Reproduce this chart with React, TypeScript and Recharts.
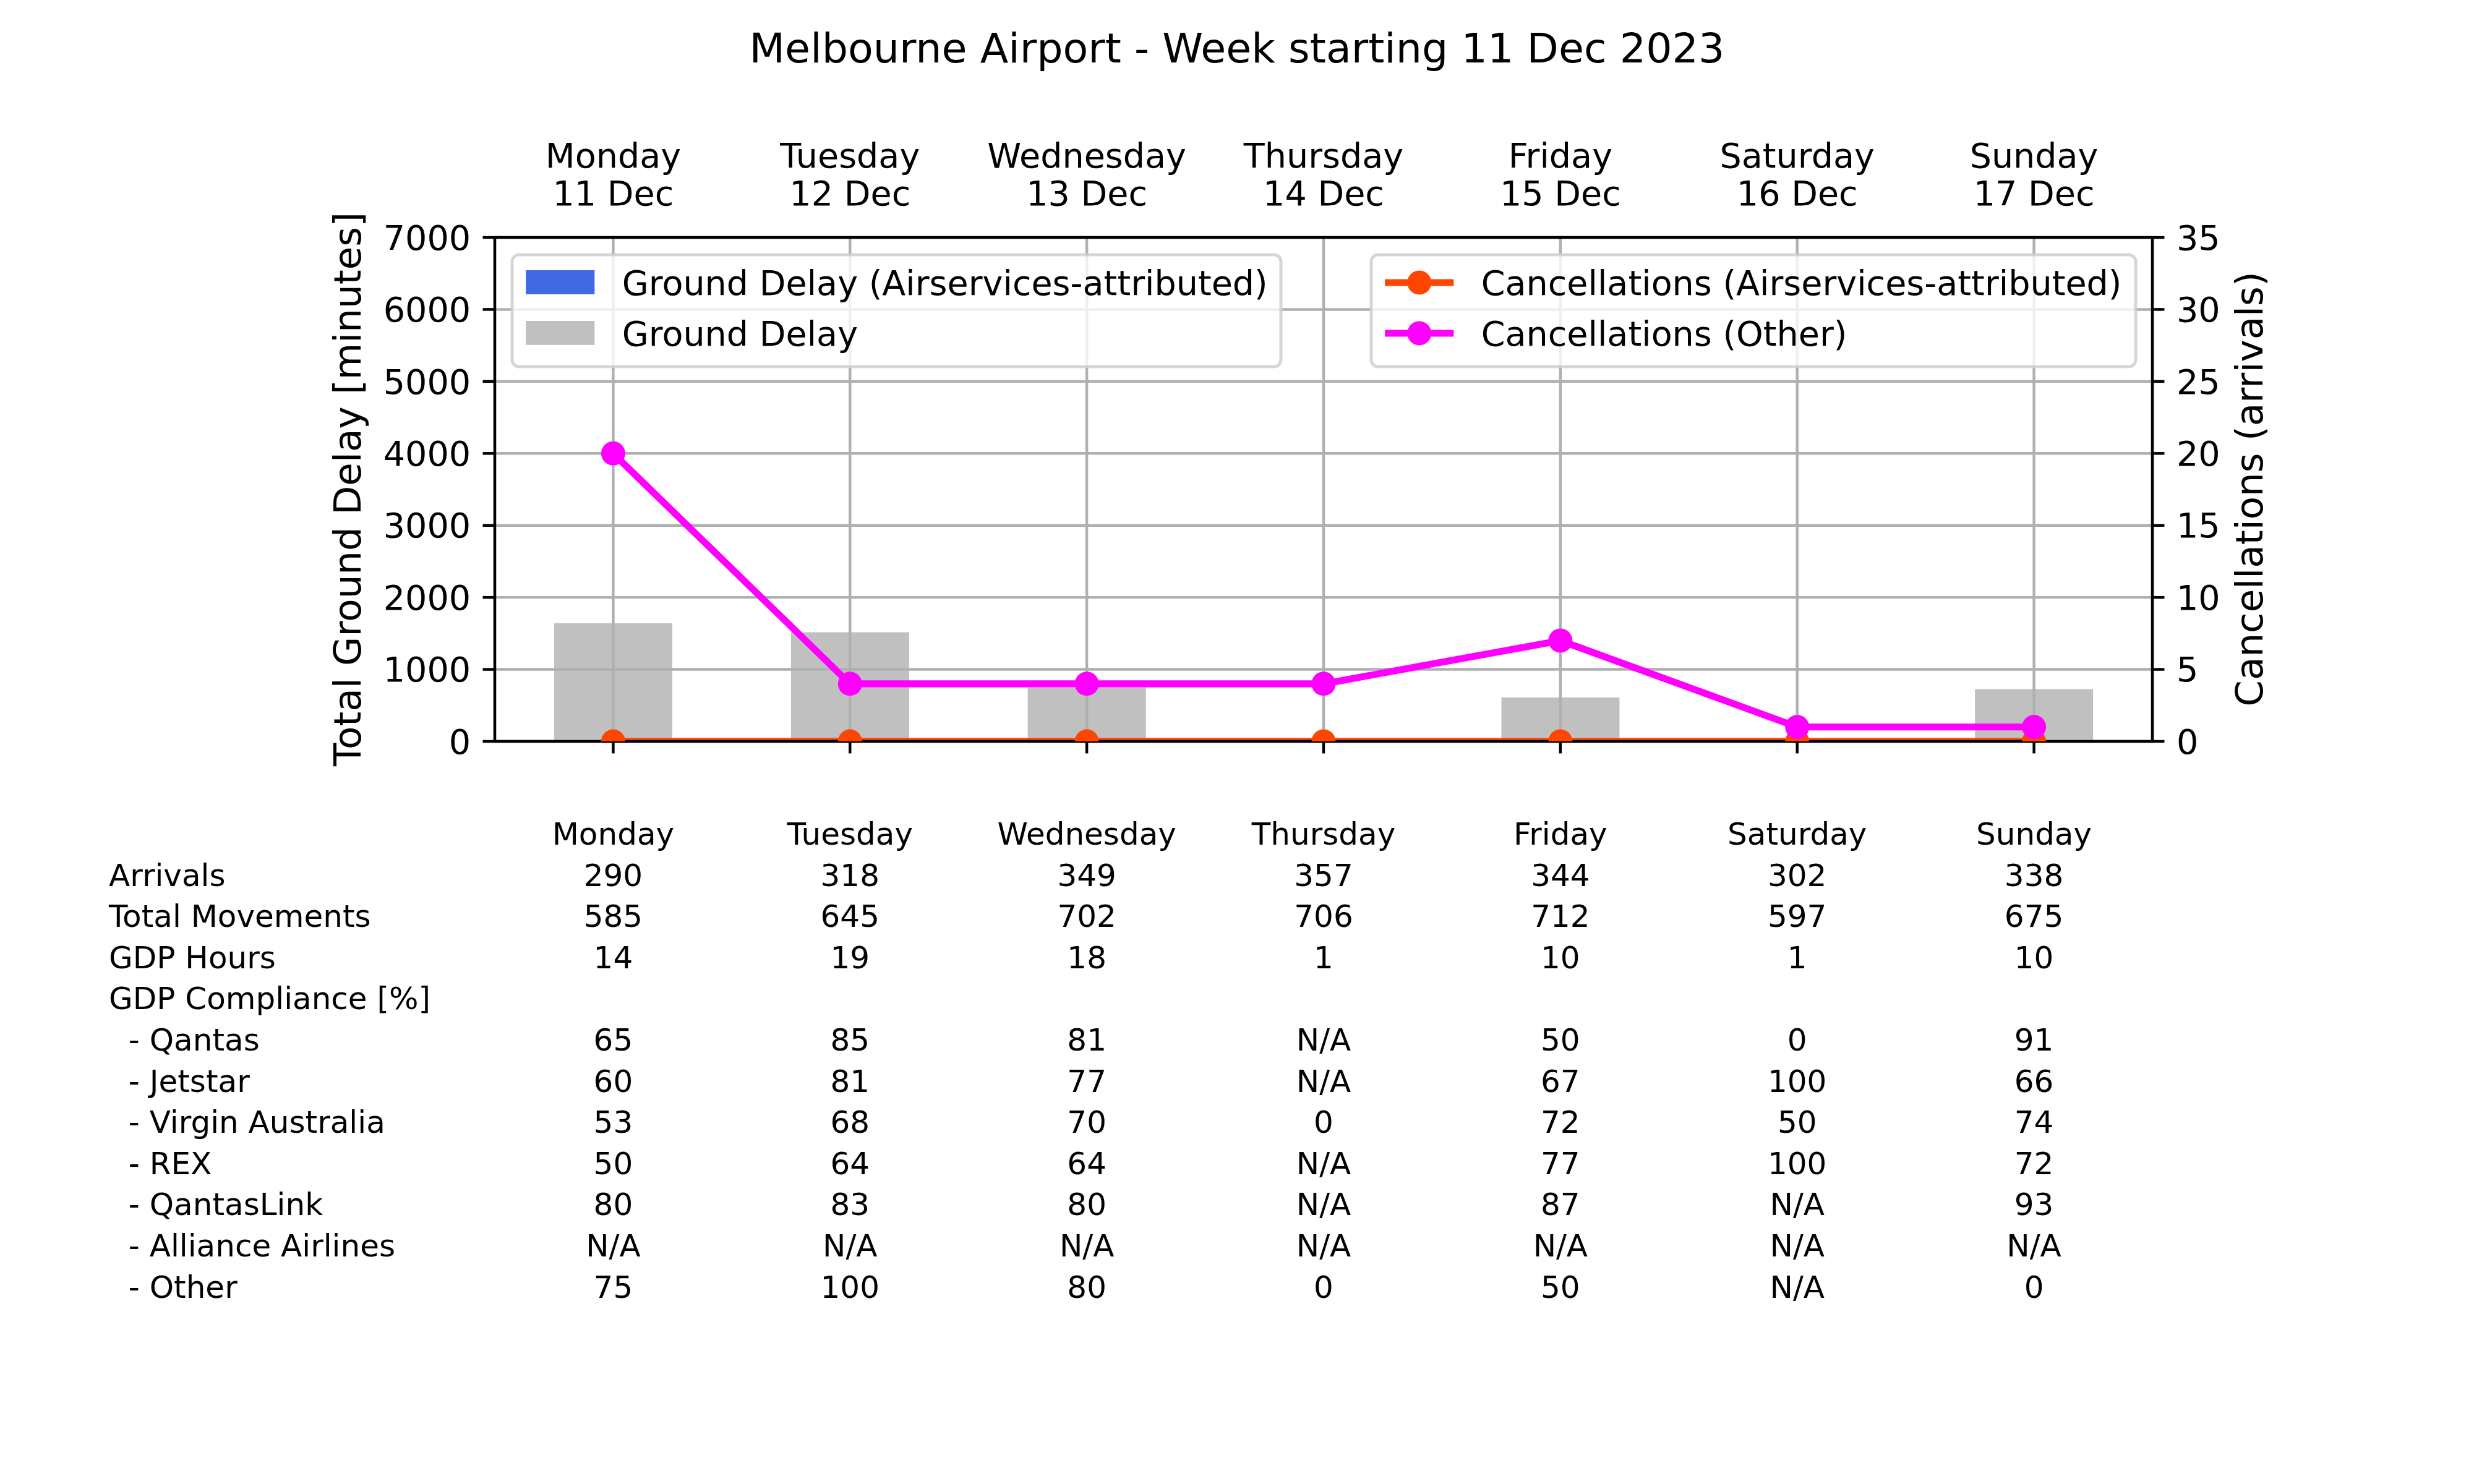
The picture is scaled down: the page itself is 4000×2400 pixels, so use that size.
import React from 'react';
import {
  ComposedChart,
  Bar,
  Line,
  XAxis,
  YAxis,
  CartesianGrid,
} from 'recharts';

// ---------- data ----------
const days = ['Monday', 'Tuesday', 'Wednesday', 'Thursday', 'Friday', 'Saturday', 'Sunday'];
const dates = ['11 Dec', '12 Dec', '13 Dec', '14 Dec', '15 Dec', '16 Dec', '17 Dec'];
const groundDelay = [1640, 1515, 750, 45, 610, 0, 725];
const groundDelayAttributed = [0, 0, 0, 0, 0, 0, 0];
const cancellationsAttributed = [0, 0, 0, 0, 0, 0, 0];
const cancellationsOther = [20, 4, 4, 4, 7, 1, 1];
const leftTicks = [0, 1000, 2000, 3000, 4000, 5000, 6000, 7000];
const rightTicks = [0, 5, 10, 15, 20, 25, 30, 35];

const arrivals = ['290', '318', '349', '357', '344', '302', '338'];
const totalMovements = ['585', '645', '702', '706', '712', '597', '675'];
const gdpHours = ['14', '19', '18', '1', '10', '1', '10'];
const qantas = ['65', '85', '81', 'N/A', '50', '0', '91'];
const jetstar = ['60', '81', '77', 'N/A', '67', '100', '66'];
const virgin = ['53', '68', '70', '0', '72', '50', '74'];
const rex = ['50', '64', '64', 'N/A', '77', '100', '72'];
const qantasLink = ['80', '83', '80', 'N/A', '87', 'N/A', '93'];
const alliance = ['N/A', 'N/A', 'N/A', 'N/A', 'N/A', 'N/A', 'N/A'];
const other = ['75', '100', '80', '0', '50', 'N/A', '0'];

const tableRows: { label: string; values: string[] | null }[] = [
  { label: '', values: days },
  { label: 'Arrivals', values: arrivals },
  { label: 'Total Movements', values: totalMovements },
  { label: 'GDP Hours', values: gdpHours },
  { label: 'GDP Compliance [%]', values: null },
  { label: '\u00a0\u00a0- Qantas', values: qantas },
  { label: '\u00a0\u00a0- Jetstar', values: jetstar },
  { label: '\u00a0\u00a0- Virgin Australia', values: virgin },
  { label: '\u00a0\u00a0- REX', values: rex },
  { label: '\u00a0\u00a0- QantasLink', values: qantasLink },
  { label: '\u00a0\u00a0- Alliance Airlines', values: alliance },
  { label: '\u00a0\u00a0- Other', values: other },
];

const barSeries = [
  { name: 'Ground Delay (Airservices-attributed)', color: '#4169e1' },
  { name: 'Ground Delay', color: '#c0c0c0' },
];
const lineSeries = [
  { name: 'Cancellations (Airservices-attributed)', color: '#ff4500' },
  { name: 'Cancellations (Other)', color: '#ff00ff' },
];

const chartData = days.map((d, i) => ({
  day: d,
  groundDelay: groundDelay[i],
  groundDelayAttributed: groundDelayAttributed[i],
  cancellationsAttributed: cancellationsAttributed[i],
  cancellationsOther: cancellationsOther[i],
}));

// ---------- style ----------
const PT = 400 / 72;
const FONT = "'DejaVu Sans', 'Liberation Sans', sans-serif";
const FS = 10 * PT;
const FS_TABLE = 9 * PT;
const FS_TITLE = 12 * PT;
const FS_LABEL = 11 * PT;
const LW = 0.8 * PT;
const TICK = 3.5 * PT;
const ROW = 66.6;
const TABLE_FIRST = 1366;

const TopTick = (props: any) => {
  const { x, y, payload } = props;
  const i = days.indexOf(payload.value);
  return (
    <text x={x} y={y} textAnchor="middle" fontFamily={FONT} fontSize={FS} fill="#000">
      <tspan x={x} dy={-113}>{days[i]}</tspan>
      <tspan x={x} dy={61}>{dates[i]}</tspan>
    </text>
  );
};

const TableTick = (props: any) => {
  const { x, y, payload } = props;
  const i = days.indexOf(payload.value);
  return (
    <g>
      {tableRows.map((row, r) =>
        row.values ? (
          <text
            key={r}
            x={x}
            y={y + (TABLE_FIRST - 1218.4) + r * ROW}
            textAnchor="middle"
            fontFamily={FONT}
            fontSize={FS_TABLE}
            fill="#000"
          >
            {row.values[i]}
          </text>
        ) : null
      )}
    </g>
  );
};

const Decorations = () => {
  const lx = 828;
  const ly = 412;
  const lh = 181;
  const rx = 2217;
  const rRight = 3453;
  const pad = 0.4 * FS;
  const hl = 2 * FS;
  const htp = 0.8 * FS;
  const rowPitch = 82;
  return (
    <svg
      width={4000}
      height={2400}
      style={{ position: 'absolute', left: 0, top: 0, pointerEvents: 'none' }}
    >
      <g fontFamily={FONT} fill="#000">
        <text x={2000} y={101} textAnchor="middle" fontSize={FS_TITLE}>
          Melbourne Airport - Week starting 11 Dec 2023
        </text>
        <text transform="translate(583, 791) rotate(-90)" textAnchor="middle" fontSize={FS_LABEL}>
          Total Ground Delay [minutes]
        </text>
        <text transform="translate(3658, 791) rotate(-90)" textAnchor="middle" fontSize={FS_LABEL}>
          Cancellations (arrivals)
        </text>
        {tableRows.map((row, r) =>
          row.label ? (
            <text key={r} x={176} y={TABLE_FIRST + r * ROW} fontSize={FS_TABLE} style={{ whiteSpace: 'pre' }}>
              {row.label}
            </text>
          ) : null
        )}
        {/* left legend */}
        <rect x={lx} y={ly} width={1243} height={lh} rx={11} fill="#fff" fillOpacity={0.8} stroke="#cccccc" strokeOpacity={0.8} strokeWidth={5} />
        {barSeries.map((s, k) => (
          <g key={s.name}>
            <rect x={lx + pad} y={ly + 25 + k * rowPitch} width={hl} height={0.7 * FS} fill={s.color} />
            <text x={lx + pad + hl + htp} y={ly + 65 + k * rowPitch} fontSize={FS}>
              {s.name}
            </text>
          </g>
        ))}
        {/* right legend */}
        <rect x={rx} y={ly} width={rRight - rx} height={lh} rx={11} fill="#fff" fillOpacity={0.8} stroke="#cccccc" strokeOpacity={0.8} strokeWidth={5} />
        {lineSeries.map((s, k) => (
          <g key={s.name}>
            <line x1={rx + pad} x2={rx + pad + hl} y1={ly + 45 + k * rowPitch} y2={ly + 45 + k * rowPitch} stroke={s.color} strokeWidth={2 * PT} />
            <circle cx={rx + pad + hl / 2} cy={ly + 45 + k * rowPitch} r={19.5} fill={s.color} />
            <text x={rx + pad + hl + htp} y={ly + 65 + k * rowPitch} fontSize={FS}>
              {s.name}
            </text>
          </g>
        ))}
      </g>
    </svg>
  );
};

export default function App() {
  return (
    <div style={{ position: 'absolute', left: 0, top: 0, width: 4000, height: 2400, background: '#fff' }}>
      <ComposedChart
        width={4000}
        height={2400}
        data={chartData}
        margin={{ top: 184, left: 500, right: 270, bottom: 201 }}
      >
        <XAxis
          xAxisId="top"
          orientation="top"
          dataKey="day"
          height={200}
          interval={0}
          tickSize={0}
          tickMargin={0}
          tickLine={false}
          axisLine={{ stroke: '#000', strokeWidth: LW }}
          tick={(p: any) => <TopTick {...p} />}
        />
        <XAxis
          xAxisId="bottom"
          orientation="bottom"
          dataKey="day"
          height={1000}
          interval={0}
          tickSize={TICK}
          tickMargin={0}
          tickLine={{ stroke: '#000', strokeWidth: LW }}
          axisLine={{ stroke: '#000', strokeWidth: LW }}
          tick={(p: any) => <TableTick {...p} />}
        />
        <XAxis xAxisId="overlay" dataKey="day" hide />
        <YAxis
          yAxisId="left"
          orientation="left"
          width={300}
          domain={[0, 7000]}
          ticks={leftTicks}
          interval={0}
          tickSize={TICK}
          tickMargin={TICK}
          tickLine={{ stroke: '#000', strokeWidth: LW }}
          axisLine={{ stroke: '#000', strokeWidth: LW }}
          tick={{ fontFamily: FONT, fontSize: FS, fill: '#000' }}
        />
        <YAxis
          yAxisId="right"
          orientation="right"
          width={250}
          domain={[0, 35]}
          ticks={rightTicks}
          interval={0}
          allowDataOverflow
          tickSize={TICK}
          tickMargin={TICK}
          tickLine={{ stroke: '#000', strokeWidth: LW }}
          axisLine={{ stroke: '#000', strokeWidth: LW }}
          tick={{ fontFamily: FONT, fontSize: FS, fill: '#000' }}
        />
        <Bar
          xAxisId="bottom"
          yAxisId="left"
          dataKey="groundDelay"
          name={barSeries[1].name}
          fill={barSeries[1].color}
          barSize={191}
          isAnimationActive={false}
        />
        <Bar
          xAxisId="overlay"
          yAxisId="left"
          dataKey="groundDelayAttributed"
          name={barSeries[0].name}
          fill={barSeries[0].color}
          barSize={191}
          isAnimationActive={false}
        />
        <CartesianGrid
          xAxisId="bottom"
          yAxisId="left"
          stroke="#b0b0b0"
          strokeWidth={LW}
          fill="none"
          {...({ zIndex: 350 } as any)}
        />
        <Line
          xAxisId="bottom"
          yAxisId="right"
          dataKey="cancellationsAttributed"
          name={lineSeries[0].name}
          stroke={lineSeries[0].color}
          strokeWidth={2 * PT}
          dot={{ r: 19.5, fill: lineSeries[0].color, stroke: 'none', strokeWidth: 0 }}
          activeDot={false}
          isAnimationActive={false}
        />
        <Line
          xAxisId="bottom"
          yAxisId="right"
          dataKey="cancellationsOther"
          name={lineSeries[1].name}
          stroke={lineSeries[1].color}
          strokeWidth={2 * PT}
          dot={{ r: 19.5, fill: lineSeries[1].color, stroke: 'none', strokeWidth: 0 }}
          activeDot={false}
          isAnimationActive={false}
        />
      </ComposedChart>
      <Decorations />
    </div>
  );
}
